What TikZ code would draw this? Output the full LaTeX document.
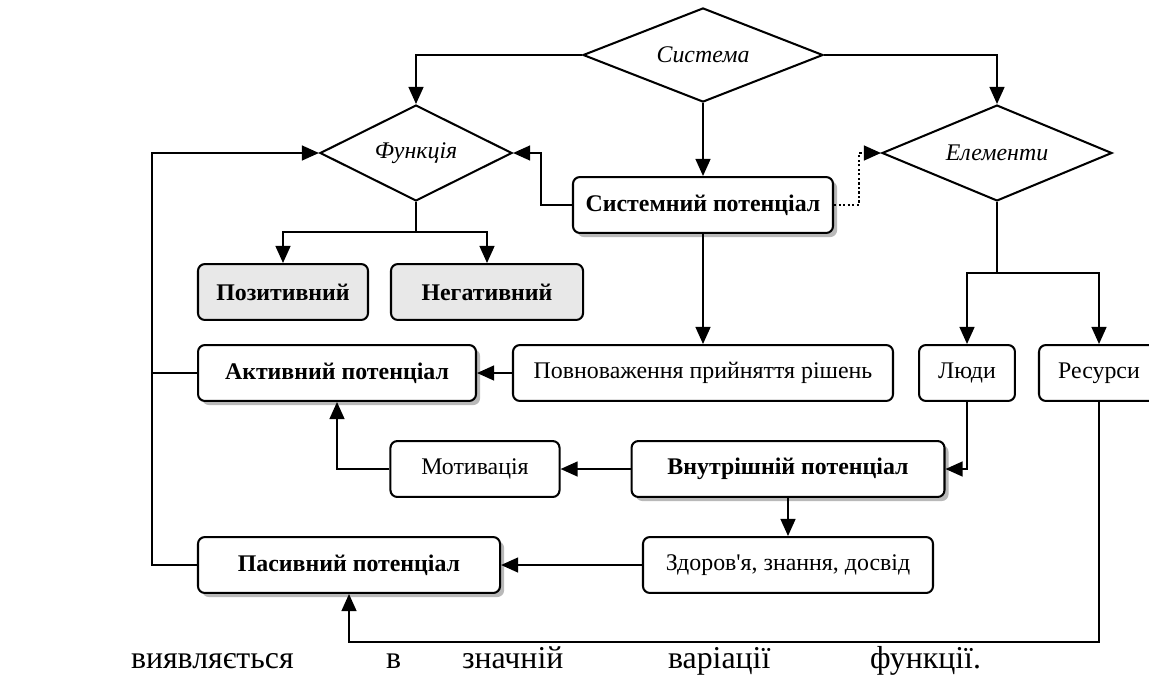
\documentclass[tikz,border=0pt]{standalone}
\usepackage{fontspec}
\setmainfont{Liberation Serif}
\usetikzlibrary{shapes.geometric,arrows.meta,shadows}

\begin{document}
\begin{tikzpicture}
    [x=0.44pt,y=-0.44pt,line width=0.9pt,
     every node/.style={font=\fontsize{10.5}{12}\selectfont},
     romb/.style={diamond,draw,inner sep=0pt,shape aspect=2.5,font=\fontsize{10.5}{12}\selectfont\itshape},
     box/.style={rectangle,draw,rounded corners=3pt,minimum height=24.6pt,inner sep=2pt,fill=white},
     bbox/.style={box,font=\fontsize{10.5}{12}\selectfont\bfseries,
       drop shadow={shadow xshift=1.8pt,shadow yshift=-1.8pt,fill=gray!55,opacity=1}},
     gbox/.style={box,fill=gray!18,font=\fontsize{10.5}{12}\selectfont\bfseries},
     word/.style={anchor=base west,inner sep=0pt,font=\fontsize{14}{16}\selectfont},
     arr/.style={-{Triangle[length=7.5pt,width=6.5pt]}}]
    \useasboundingbox (0,0) rectangle (1149,677);
    \clip (0,0) rectangle (1149,677);

    \node[romb,minimum width=105.6pt,minimum height=41.4pt] (sist) at (703,55) {Система};
    \node[romb,minimum width=84.5pt,minimum height=42.2pt] (func) at (416,153) {Функція};
    \node[romb,minimum width=101.2pt,minimum height=42.2pt] (elem) at (997,153) {Елементи};

    \node[bbox,minimum width=114.4pt] (sp) at (703,205) {Системний потенціал};
    \node[gbox,minimum width=74.8pt] (pos) at (283,292) {Позитивний};
    \node[gbox,minimum width=84.5pt] (neg) at (487,292) {Негативний};
    \node[bbox,minimum width=122.3pt] (ap) at (337,373) {Активний потенціал};
    \node[box,minimum width=167.2pt] (pov) at (703,373) {Повноваження прийняття рішень};
    \node[box,minimum width=42.2pt] (lud) at (967,373) {Люди};
    \node[box,minimum width=52.8pt] (res) at (1099,373) {Ресурси};
    \node[box,minimum width=74.4pt] (mot) at (475,469) {Мотивація};
    \node[bbox,minimum width=137.7pt] (vp) at (788,469) {Внутрішній потенціал};
    \node[bbox,minimum width=132.9pt] (pp) at (349,565) {Пасивний потенціал};
    \node[box,minimum width=127.6pt] (zdr) at (788,565) {Здоров\textquotesingle я, знання, досвід};

    \draw[arr] (sist.west) -| (func.north);
    \draw[arr] (sist.east) -| (elem.north);
    \draw[arr] (sist.south) -- (sp.north);
    \draw[arr] (sp.west) -- ++(-31,0) |- (func.east);
    \draw[arr,dash pattern=on 1pt off 1pt] (sp.east) -- ++(25,0) |- (elem.west);

    \coordinate (fj) at (416,232);
    \draw (func.south) -- (fj);
    \draw[arr] (fj) -| (pos.north);
    \draw[arr] (fj) -| (neg.north);

    \coordinate (ej) at (997,273);
    \draw (elem.south) -- (ej);
    \draw[arr] (ej) -| (lud.north);
    \draw[arr] (ej) -| (res.north);

    \draw[arr] (sp.south) -- (pov.north);
    \draw[arr] (pov.west) -- (ap.east);
    \draw[arr] (mot.west) -| (ap.south);
    \draw[arr] (vp.west) -- (mot.east);
    \draw[arr] (lud.south) |- (vp.east);
    \draw[arr] (vp.south) -- (zdr.north);
    \draw[arr] (zdr.west) -- (pp.east);

    \coordinate (rb) at (1099,642);
    \draw[arr] (res.south) -- (rb) -| (pp.south);

    \coordinate (lx) at (152,0);
    \draw[arr] (pp.west) -- (pp.west -| lx) |- (func.west);
    \draw (ap.west) -- (ap.west -| lx);

    \node[word] (w1) at (130,668) {виявляється};
    \node[word] (w2) at (385,668) {в};
    \node[word] (w3) at (461,668) {значній};
    \node[word] (w4) at (667,668) {варіації};
    \node[word] (w5) at (869,668) {функції.};
\end{tikzpicture}
\end{document}
